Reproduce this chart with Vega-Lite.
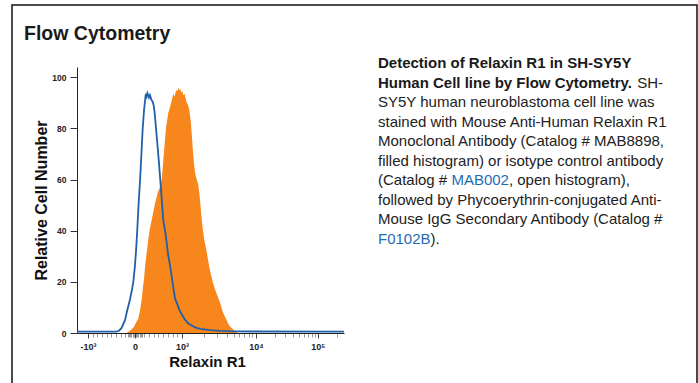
{
  "$schema": "https://vega.github.io/schema/vega-lite/v6.json",
  "width": 685,
  "height": 378,
  "autosize": {"type": "none"},
  "padding": {"left": 12, "top": 5, "right": 1, "bottom": 0},
  "background": "#ffffff",
  "config": {
    "view": {"stroke": "#111111", "strokeWidth": 1.5, "strokeDash": [1063, 685, 378]},
    "font": "Liberation Sans"
  },
  "datasets": {
    "relaxin": [
      {"channel": 0, "count": 0}, {"channel": 190, "count": 0}, {"channel": 197, "count": 0.5}, {"channel": 207, "count": 1.2},
      {"channel": 219, "count": 2.4}, {"channel": 226, "count": 4}, {"channel": 235, "count": 5.6}, {"channel": 242, "count": 9},
      {"channel": 248, "count": 13}, {"channel": 252, "count": 17}, {"channel": 257, "count": 21}, {"channel": 262, "count": 27},
      {"channel": 268, "count": 32}, {"channel": 274, "count": 37}, {"channel": 280, "count": 41}, {"channel": 290, "count": 46},
      {"channel": 300, "count": 51}, {"channel": 310, "count": 55}, {"channel": 318, "count": 57}, {"channel": 325, "count": 60},
      {"channel": 333, "count": 70}, {"channel": 341, "count": 80}, {"channel": 350, "count": 86}, {"channel": 356, "count": 88},
      {"channel": 361, "count": 90}, {"channel": 366, "count": 92}, {"channel": 370, "count": 93.5}, {"channel": 374, "count": 92.5},
      {"channel": 378, "count": 94}, {"channel": 382, "count": 95}, {"channel": 386, "count": 94.5}, {"channel": 389, "count": 96},
      {"channel": 392, "count": 95}, {"channel": 396, "count": 95.5}, {"channel": 400, "count": 94}, {"channel": 404, "count": 94.5},
      {"channel": 408, "count": 93}, {"channel": 412, "count": 93.5}, {"channel": 416, "count": 92}, {"channel": 421, "count": 90},
      {"channel": 426, "count": 89}, {"channel": 431, "count": 87}, {"channel": 436, "count": 83}, {"channel": 440, "count": 78},
      {"channel": 444, "count": 72}, {"channel": 449, "count": 66}, {"channel": 454, "count": 62}, {"channel": 459, "count": 60},
      {"channel": 465, "count": 58}, {"channel": 470, "count": 54}, {"channel": 476, "count": 47}, {"channel": 482, "count": 41},
      {"channel": 489, "count": 36}, {"channel": 497, "count": 32}, {"channel": 507, "count": 26}, {"channel": 520, "count": 20},
      {"channel": 533, "count": 16}, {"channel": 548, "count": 12}, {"channel": 560, "count": 8}, {"channel": 574, "count": 5},
      {"channel": 583, "count": 3}, {"channel": 593, "count": 2}, {"channel": 606, "count": 0.7}, {"channel": 617, "count": 0},
      {"channel": 1024, "count": 0}
    ],
    "isotype": [
      {"channel": 0, "count": 0.5}, {"channel": 152, "count": 0.5}, {"channel": 162, "count": 1}, {"channel": 171, "count": 2},
      {"channel": 184, "count": 5}, {"channel": 193, "count": 9}, {"channel": 203, "count": 13}, {"channel": 210, "count": 16.5},
      {"channel": 216, "count": 20}, {"channel": 222, "count": 26}, {"channel": 227, "count": 33}, {"channel": 231, "count": 40},
      {"channel": 236, "count": 50}, {"channel": 242, "count": 60}, {"channel": 247, "count": 70}, {"channel": 252, "count": 80},
      {"channel": 257, "count": 87}, {"channel": 261, "count": 91}, {"channel": 264, "count": 93.5}, {"channel": 267, "count": 92.5},
      {"channel": 270, "count": 93.8}, {"channel": 273, "count": 93}, {"channel": 276, "count": 92}, {"channel": 280, "count": 93},
      {"channel": 283, "count": 92}, {"channel": 286, "count": 91}, {"channel": 290, "count": 90.5}, {"channel": 294, "count": 89},
      {"channel": 298, "count": 86}, {"channel": 303, "count": 80}, {"channel": 309, "count": 73}, {"channel": 314, "count": 67},
      {"channel": 323, "count": 55}, {"channel": 331, "count": 44}, {"channel": 340, "count": 38.5}, {"channel": 349, "count": 31},
      {"channel": 359, "count": 25}, {"channel": 369, "count": 18}, {"channel": 376, "count": 13.5}, {"channel": 382, "count": 12},
      {"channel": 395, "count": 8.5}, {"channel": 414, "count": 5.2}, {"channel": 426, "count": 3.8}, {"channel": 440, "count": 2.9},
      {"channel": 455, "count": 2.1}, {"channel": 472, "count": 1.6}, {"channel": 510, "count": 1.1}, {"channel": 548, "count": 0.8},
      {"channel": 600, "count": 0.6}, {"channel": 1024, "count": 0.5}
    ],
    "caption": [
      {"part": "heading", "line": 0, "seq": 1, "text": "Flow Cytometry"},
      {"part": "lead", "line": 1, "seq": 1, "text": "Detection of Relaxin R1 in SH-SY5Y"},
      {"part": "lead", "line": 2, "seq": 1, "text": "Human Cell line by Flow Cytometry."},
      {"part": "body", "line": 2, "seq": 2, "text": "SH-"},
      {"part": "body", "line": 3, "seq": 1, "text": "SY5Y human neuroblastoma cell line was"},
      {"part": "body", "line": 4, "seq": 1, "text": "stained with Mouse Anti-Human Relaxin R1"},
      {"part": "body", "line": 5, "seq": 1, "text": "Monoclonal Antibody (Catalog # MAB8898,"},
      {"part": "body", "line": 6, "seq": 1, "text": "filled histogram) or isotype control antibody"},
      {"part": "body", "line": 7, "seq": 1, "text": "(Catalog #"},
      {"part": "link", "line": 7, "seq": 2, "text": "MAB002"},
      {"part": "body", "line": 7, "seq": 3, "text": ", open histogram),"},
      {"part": "body", "line": 8, "seq": 1, "text": "followed by Phycoerythrin-conjugated Anti-"},
      {"part": "body", "line": 9, "seq": 1, "text": "Mouse IgG Secondary Antibody (Catalog #"},
      {"part": "link", "line": 10, "seq": 1, "text": "F0102B"},
      {"part": "body", "line": 10, "seq": 2, "text": ")."}
    ]
  },
  "layer": [
    {
      "encoding": {
        "x": {
          "field": "channel", "type": "quantitative",
          "scale": {"domain": [0, 1024], "range": [65, 332], "nice": false, "zero": false},
          "axis": {
            "orient": "bottom", "offset": -50, "grid": false,
            "values": [42, 59.5, 77.6, 95.7, 113.7, 131.8, 149.8, 167.9, 185.9, 194.9, 199.4, 204, 208.5, 213, 217.5, 222, 226.5, 231, 235.5, 240, 244.6, 249.1, 258.1, 276.2, 294.2, 312.3, 330.3, 348.4, 366.4, 384.5, 403, 488.2, 538, 573.4, 600.8, 623.2, 642.2, 658.6, 673, 686, 757.6, 799.6, 829.3, 852.4, 871.2, 887.1, 900.9, 913.1, 924, 995.6],
            "labelExpr": "datum.value == 42 ? '-10³' : datum.value == 222 ? '0' : datum.value == 403 ? '10³' : datum.value == 686 ? '10⁴' : datum.value == 924 ? '10⁵' : ''",
            "labelFontSize": 9, "labelFontWeight": "bold", "labelColor": "#222222", "labelPadding": 4,
            "labelOverlap": false, "labelBound": false, "labelFlush": false,
            "tickSize": {"condition": {"test": "indexof([42,222,403,686,924], datum.value) >= 0", "value": 5}, "value": 4},
            "tickColor": {"condition": {"test": "indexof([42,222,403,686,924], datum.value) >= 0", "value": "#444444"}, "value": "#9a9a9a"},
            "domainColor": "#222222", "domainWidth": 1,
            "title": "Relaxin R1", "titleFontSize": 15, "titleFontWeight": "bold", "titleColor": "#111111", "titlePadding": 3, "titleX": 195
          }
        },
        "y": {
          "field": "count", "type": "quantitative",
          "scale": {"domain": [0, 104], "range": [328, 62], "nice": false, "zero": false},
          "axis": {
            "orient": "left", "offset": -65, "grid": false,
            "values": [0, 20, 40, 60, 80, 100],
            "labelFontSize": 8.5, "labelFontWeight": "bold", "labelColor": "#222222", "labelPadding": 4,
            "tickSize": 7, "tickColor": "#333333", "domainColor": "#222222",
            "title": "Relative Cell Number", "titleFontSize": 16, "titleFontWeight": "bold", "titleColor": "#111111", "titlePadding": 2
          }
        }
      },
      "layer": [
        {
          "data": {"name": "relaxin"},
          "mark": {"type": "area", "color": "#f7861c", "opacity": 1, "interpolate": "linear"},
          "encoding": {"y2": {"datum": 0}}
        },
        {
          "data": {"name": "isotype"},
          "mark": {"type": "line", "color": "#2060aa", "strokeWidth": 1.8, "interpolate": "linear"}
        }
      ]
    },
    {
      "data": {"name": "caption"},
      "encoding": {
        "x": {"datum": 1, "type": "quantitative", "scale": {"domain": [0, 1], "range": [12, 366]}, "axis": null},
        "y": {"field": "line", "type": "quantitative", "scale": {"domain": [1, 10], "range": [58, 234]}, "axis": null},
        "text": {"field": "text"}
      },
      "layer": [
        {
          "transform": [{"filter": "datum.part == 'heading'"}],
          "mark": {"type": "text", "align": "left", "baseline": "middle", "fontSize": 19.5, "fontWeight": "bold", "color": "#1a1a1a"},
          "encoding": {
            "x": {"datum": 0, "type": "quantitative"},
            "y": {"datum": -0.5, "type": "quantitative"}
          }
        },
        {
          "transform": [{"filter": "datum.part == 'lead'"}],
          "mark": {"type": "text", "align": "left", "baseline": "middle", "fontSize": 15, "fontWeight": "bold", "color": "#1a1a1a"}
        },
        {
          "transform": [{"filter": "datum.part == 'body' && datum.seq == 1"}],
          "mark": {"type": "text", "align": "left", "baseline": "middle", "fontSize": 15, "color": "#222222"}
        },
        {
          "transform": [{"filter": "datum.part == 'link' && datum.seq == 1"}],
          "mark": {"type": "text", "align": "left", "baseline": "middle", "fontSize": 15, "color": "#1f6cb3"}
        },
        {
          "transform": [{"filter": "datum.line == 2 && datum.seq == 2"}],
          "mark": {"type": "text", "align": "left", "baseline": "middle", "fontSize": 15, "dx": 259.2, "color": "#222222"}
        },
        {
          "transform": [{"filter": "datum.line == 7 && datum.seq == 2"}],
          "mark": {"type": "text", "align": "left", "baseline": "middle", "fontSize": 15, "dx": 73.4, "color": "#1f6cb3"}
        },
        {
          "transform": [{"filter": "datum.line == 7 && datum.seq == 3"}],
          "mark": {"type": "text", "align": "left", "baseline": "middle", "fontSize": 15, "dx": 130.9, "color": "#222222"}
        },
        {
          "transform": [{"filter": "datum.line == 10 && datum.seq == 2"}],
          "mark": {"type": "text", "align": "left", "baseline": "middle", "fontSize": 15, "dx": 52.5, "color": "#222222"}
        }
      ]
    }
  ],
  "resolve": {"scale": {"x": "independent", "y": "independent"}}
}
